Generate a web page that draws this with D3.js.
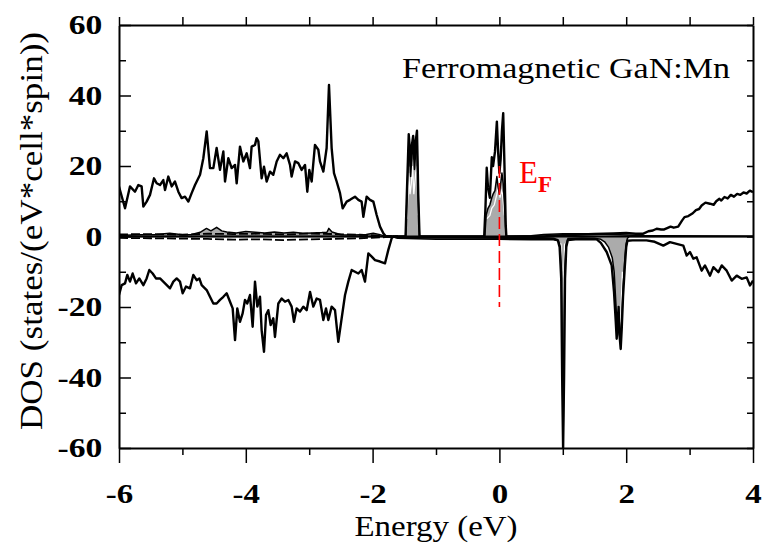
<!DOCTYPE html>
<html><head><meta charset="utf-8">
<script src="https://cdn.jsdelivr.net/npm/d3@7"></script>
<style>body{margin:0;background:#fff} svg text{font-family:"Liberation Serif",serif !important}</style>
</head><body><svg id="c" width="762" height="548"></svg>
<script>
// ---------- data ----------
const xTicks = [-6, -4, -2, 0, 2, 4];
const xMinorTicks = [-5, -3, -1, 1, 3];
const yTicks = [-60, -40, -20, 0, 20, 40, 60];
const yMinorTicks = [-50, -30, -10, 10, 30, 50];
const titleText = "Ferromagnetic GaN:Mn";
const xLabel = "Energy (eV)";
const yLabel = "DOS (states/(eV*cell*spin))";

// total DOS, spin up  [energy eV, DOS]
const totalUp = [[-6.00,14.2],[-5.905,8.0],[-5.827,14.2],[-5.748,12.7],[-5.695,14.6],[-5.643,14.2],[-5.616,8.5],[-5.564,9.9],[-5.511,11.8],[-5.448,16.5],[-5.406,15.1],[-5.353,14.6],[-5.301,16.0],[-5.274,13.2],[-5.222,17.0],[-5.169,14.2],[-5.117,15.6],[-5.064,12.7],[-5.012,10.9],[-4.959,11.3],[-4.906,9.9],[-4.854,12.3],[-4.801,14.6],[-4.722,17.5],[-4.670,22.2],[-4.617,29.8],[-4.565,19.4],[-4.512,19.4],[-4.460,25.1],[-4.407,18.9],[-4.354,24.1],[-4.328,15.6],[-4.276,22.2],[-4.223,19.4],[-4.170,20.3],[-4.144,15.1],[-4.092,25.5],[-4.039,21.3],[-3.986,23.6],[-3.934,19.4],[-3.908,25.5],[-3.855,26.0],[-3.829,27.9],[-3.802,27.0],[-3.750,16.5],[-3.713,19.8],[-3.671,15.6],[-3.618,18.4],[-3.566,17.5],[-3.513,21.3],[-3.461,23.2],[-3.408,22.2],[-3.356,23.6],[-3.303,20.3],[-3.277,17.0],[-3.224,21.3],[-3.171,20.8],[-3.119,18.9],[-3.066,20.3],[-3.030,12.7],[-2.998,18.9],[-2.961,15.6],[-2.909,26.0],[-2.856,24.6],[-2.830,21.3],[-2.777,18.4],[-2.725,25.1],[-2.688,43.0],[-2.646,25.1],[-2.609,18.0],[-2.567,15.6],[-2.514,12.3],[-2.472,8.0],[-2.409,9.9],[-2.357,10.4],[-2.278,11.3],[-2.225,10.4],[-2.173,9.9],[-2.146,5.6],[-2.094,11.3],[-2.041,10.4],[-1.988,9.9],[-1.936,6.1],[-1.883,2.8],[-1.831,0.9],[-1.789,0],
 [-1.48,0],[-1.46,12],[-1.43,29],[-1.41,24],[-1.40,20],[-1.38,26],[-1.36,28.5],[-1.34,22],[-1.32,27],[-1.30,30],[-1.28,12],[-1.26,0],
 [-0.24,0],[-0.22,8],[-0.20,19.5],[-0.18,14],[-0.15,11],[-0.12,22.5],[-0.10,20],[-0.07,24],[-0.04,32.6],[-0.02,24],[0.00,18],[0.02,22],[0.04,30],[0.06,35],[0.08,20],[0.10,3],[0.11,0],
 [0.70,0],[0.90,0.3],[1.20,0.5],[1.50,0.7],[1.80,0.9],[2.00,1.0],[2.15,0.8],[2.27,0.8],[2.35,1.5],[2.42,1.7],[2.48,2.2],[2.55,2.0],[2.60,2.0],[2.70,2.8],[2.75,2.5],[2.82,2.8],[2.88,4.5],[2.92,5.5],[2.98,5.8],[3.05,6.6],[3.10,7.5],[3.15,7.8],[3.19,8.8],[3.25,9.6],[3.32,9.3],[3.38,9.0],[3.42,10.0],[3.47,10.7],[3.50,10.2],[3.55,11.2],[3.60,10.8],[3.65,11.8],[3.70,11.3],[3.75,12.1],[3.80,11.8],[3.85,12.5],[3.90,12.2],[3.95,13.0],[4.00,12.6]];

// total DOS, spin down
const totalDown = [[-6.00,-16.6],[-5.958,-13.8],[-5.905,-13.3],[-5.869,-10.9],[-5.827,-12.8],[-5.785,-10.5],[-5.732,-13.3],[-5.680,-11.9],[-5.616,-13.8],[-5.564,-11.9],[-5.522,-9.5],[-5.469,-10.5],[-5.417,-11.9],[-5.353,-11.9],[-5.274,-13.3],[-5.195,-14.7],[-5.143,-12.8],[-5.090,-11.9],[-5.038,-12.8],[-4.996,-16.1],[-4.943,-14.2],[-4.880,-14.7],[-4.828,-10.9],[-4.775,-12.4],[-4.733,-11.9],[-4.696,-13.8],[-4.617,-15.2],[-4.565,-17.1],[-4.512,-19.0],[-4.460,-19.0],[-4.407,-18.0],[-4.354,-17.1],[-4.302,-16.1],[-4.249,-18.5],[-4.207,-20.4],[-4.170,-29.4],[-4.134,-20.4],[-4.092,-24.2],[-4.050,-21.8],[-4.013,-18.0],[-3.976,-19.0],[-3.934,-16.6],[-3.892,-25.6],[-3.855,-12.8],[-3.818,-19.9],[-3.776,-17.1],[-3.750,-26.6],[-3.713,-32.7],[-3.681,-22.3],[-3.645,-20.9],[-3.608,-25.1],[-3.566,-23.2],[-3.540,-28.5],[-3.487,-19.0],[-3.434,-17.6],[-3.382,-18.5],[-3.329,-18.0],[-3.277,-19.9],[-3.240,-24.2],[-3.198,-20.4],[-3.145,-21.3],[-3.093,-19.9],[-3.040,-20.9],[-2.987,-15.7],[-2.935,-19.9],[-2.882,-17.6],[-2.830,-18.0],[-2.777,-23.7],[-2.735,-20.4],[-2.698,-23.7],[-2.646,-19.9],[-2.593,-20.9],[-2.541,-29.9],[-2.488,-23.2],[-2.435,-16.6],[-2.383,-12.8],[-2.330,-9.5],[-2.278,-10.0],[-2.225,-10.5],[-2.173,-9.5],[-2.120,-12.8],[-2.067,-4.8],[-2.014,-5.7],[-1.962,-6.7],[-1.883,-7.1],[-1.804,-7.6],[-1.752,-3.8],[-1.699,-0.5],[-1.673,0],
 [-1.60,-0.2],[-0.50,-0.3],[0.50,-0.4],[0.85,-0.6],[0.92,-1],[0.95,-3],[0.975,-12],[0.99,-40],[1.005,-60],[1.02,-40],[1.035,-12],[1.055,-3],[1.08,-1],[1.20,-0.8],[1.40,-0.8],
 [1.535,-0.8],[1.60,-1.8],[1.692,-4.4],[1.771,-8.2],[1.808,-15.8],[1.835,-24],[1.850,-29],[1.865,-24],[1.880,-20],[1.895,-28],[1.913,-31.9],[1.93,-26],[1.95,-17],[1.98,-8],[2.00,-3],[2.019,-1.2],
 [2.10,-1.1],[2.32,-1.1],[2.45,-1.5],[2.586,-2.6],[2.69,-1.6],[2.796,-2.1],[2.901,-2.6],[2.954,-5.4],[3.006,-4.4],[3.059,-6.3],[3.111,-5.9],[3.19,-9.7],[3.243,-8.2],[3.322,-11.1],[3.375,-8.7],[3.454,-10.1],[3.506,-8.2],[3.585,-9.7],[3.664,-12.5],[3.743,-11.1],[3.822,-12.0],[3.90,-11.6],[3.953,-13.9],[4.00,-12.5]];

// Mn partial DOS (shaded), spin up
const mnUp = [[-6.00,0.3],[-5.70,0.5],[-5.40,0.6],[-5.20,0.9],[-5.00,0.5],[-4.85,0.6],[-4.72,1.2],[-4.62,2.3],[-4.55,1.6],[-4.46,2.6],[-4.38,1.6],[-4.30,1.3],[-4.15,1.0],[-4.00,1.4],[-3.85,1.2],[-3.70,1.0],[-3.55,1.3],[-3.40,1.0],[-3.25,1.2],[-3.10,0.9],[-2.95,1.0],[-2.80,1.1],[-2.72,1.2],[-2.69,2.3],[-2.64,1.3],[-2.50,0.5],[-2.30,0.4],[-2.10,0.6],[-1.99,0.9],[-1.90,0.6],[-1.80,0.1],
 [-1.48,0],[-1.46,10],[-1.43,26],[-1.41,21],[-1.40,17],[-1.38,23],[-1.36,26],[-1.34,19],[-1.32,24],[-1.30,27],[-1.28,10],[-1.26,0],
 [-0.23,0],[-0.21,6],[-0.18,8],[-0.15,9],[-0.12,11],[-0.10,12],[-0.07,13],[-0.04,17],[-0.02,14],[0.00,12],[0.02,15],[0.04,18],[0.06,15],[0.08,9],[0.10,2],[0.11,0],
 [0.50,0.2],[0.70,0.6],[1.00,0.8],[1.40,0.8],[1.80,0.6],[2.20,0.3],[2.60,0.2],[4.00,0.1]];

// Mn partial DOS (shaded), spin down
const mnDown = [[-6.00,0],[-1.70,0],[-1.60,-0.5],[-1.00,-0.8],[0.00,-0.8],[0.50,-0.9],[0.85,-0.9],[0.93,-1.2],[0.96,-3],[0.98,-10],[0.995,-38],[1.005,-59],[1.015,-38],[1.03,-10],[1.05,-2.5],[1.08,-0.6],[1.30,-0.4],[1.50,-0.5],[1.60,-0.8],[1.66,-1.5],[1.72,-3],[1.78,-6],[1.81,-10],[1.84,-20],[1.86,-28],[1.875,-22],[1.89,-27],[1.905,-30],[1.93,-24],[1.95,-15],[1.98,-6],[2.00,-2],[2.02,-0.5],[2.05,0],[4.00,0]];

// second partial (white lines inside the peaks)
const whiteUp1 = [[-1.46,5],[-1.43,18],[-1.41,12],[-1.39,15],[-1.37,20],[-1.35,12],[-1.32,18],[-1.30,20],[-1.28,6]];
const whiteUp2 = [[-0.20,5],[-0.15,6],[-0.12,8],[-0.08,9],[-0.04,12],[-0.01,15],[0.01,11],[0.03,13],[0.05,12],[0.08,6]];
const whiteDown1 = [[0.97,-2],[0.99,-15],[1.00,-50],[1.01,-15],[1.03,-2]];
const whiteDown2 = [[1.56,-0.6],[1.66,-2.8],[1.74,-6.5],[1.79,-12],[1.83,-20],[1.855,-25],[1.87,-20],[1.89,-24],[1.905,-27],[1.92,-20],[1.94,-10]];

// small partials (dashed)
const dashUp = [[-6.0,0.6],[-5.5,0.7],[-5.0,0.5],[-4.6,0.8],[-4.2,0.7],[-3.8,0.8],[-3.4,0.6],[-3.0,0.8],[-2.6,0.7],[-2.2,0.5],[-1.8,0.2],[-1.6,0]];
const dashDown = [[-6.0,-0.4],[-5.5,-0.5],[-5.0,-0.6],[-4.6,-0.7],[-4.2,-0.9],[-3.8,-0.8],[-3.4,-1.0],[-3.0,-0.8],[-2.6,-0.7],[-2.2,-0.5],[-1.8,-0.2],[-1.6,0]];

const fermiRange = [-20, 20];

// ---------- drawing ----------
const L = 119, R = 753, T = 25, B = 448;
const x = d3.scaleLinear().domain([-6, 4]).range([L, R]);
const y = d3.scaleLinear().domain([-60, 60]).range([B, T]);
const svg = d3.select('#c');
const serif = "Liberation Serif";

svg.append('defs').append('clipPath').attr('id', 'cp')
  .append('rect').attr('x', L).attr('y', T).attr('width', R - L).attr('height', B - T);

const line = d3.line().x(d => x(d[0])).y(d => y(d[1]));
const area = d3.area().x(d => x(d[0])).y0(y(0)).y1(d => y(d[1]));

const g = svg.append('g').attr('clip-path', 'url(#cp)');
g.append('path').datum(mnUp).attr('d', area).attr('fill', '#ababab');
g.append('path').datum(mnDown).attr('d', area).attr('fill', '#ababab');
g.append('line').attr('x1', L).attr('x2', R).attr('y1', y(0)).attr('y2', y(0))
  .attr('stroke', '#000').attr('stroke-width', 2.2);
[whiteUp1, whiteUp2, whiteDown1, whiteDown2].forEach(s =>
  g.append('path').datum(s).attr('d', line).attr('fill', 'none')
    .attr('stroke', '#fff').attr('stroke-width', 1.3));
[mnUp, mnDown].forEach(s =>
  g.append('path').datum(s).attr('d', line).attr('fill', 'none')
    .attr('stroke', '#000').attr('stroke-width', 1.5).attr('stroke-linejoin', 'round'));
[dashUp, dashDown].forEach(s =>
  g.append('path').datum(s).attr('d', line).attr('fill', 'none')
    .attr('stroke', '#000').attr('stroke-width', 1.8).attr('stroke-dasharray', '9,3'));
[totalUp, totalDown].forEach(s =>
  g.append('path').datum(s).attr('d', line).attr('fill', 'none')
    .attr('stroke', '#000').attr('stroke-width', 2.4).attr('stroke-linejoin', 'round'));

// Fermi level
svg.append('line').attr('x1', x(0)).attr('x2', x(0))
  .attr('y1', y(fermiRange[1])).attr('y2', y(fermiRange[0]))
  .attr('stroke', '#ff0000').attr('stroke-width', 1.6).attr('stroke-dasharray', '12,5');

// axes
function styleAxis(sel) {
  sel.select('.domain').attr('stroke', '#000').attr('stroke-width', 2);
  sel.selectAll('.tick line').attr('stroke', '#000').attr('stroke-width', 1.5);
}
const ax1 = svg.append('g').attr('transform', `translate(0,${B})`)
  .call(d3.axisBottom(x).tickValues(xTicks).tickSize(15).tickSizeOuter(0).tickFormat(d => String(d)));
styleAxis(ax1);
ax1.selectAll('.tick text').attr('y', 503 - B).attr('dy', 0)
  .attr('font-family', serif).attr('font-weight', 'bold').attr('font-size', 27)
  .attr('fill', '#000').attr('transform', 'scale(1.22,1)');
const ax1m = svg.append('g').attr('transform', `translate(0,${B})`)
  .call(d3.axisBottom(x).tickValues(xMinorTicks).tickSize(7).tickFormat(''));
ax1m.select('.domain').remove(); styleAxis(ax1m);

const ax2 = svg.append('g').attr('transform', `translate(0,${T})`)
  .call(d3.axisTop(x).tickValues(d3.range(-6, 5, 1)).tickSize(8).tickSizeOuter(0).tickFormat(''));
styleAxis(ax2);

const ax3 = svg.append('g').attr('transform', `translate(${L},0)`)
  .call(d3.axisLeft(y).tickValues(yTicks).tickSize(-12).tickSizeOuter(0).tickPadding(14).tickFormat(d => String(d)));
styleAxis(ax3);
ax3.selectAll('.tick text').attr('font-family', serif).attr('font-weight', 'bold')
  .attr('font-size', 28).attr('fill', '#000').attr('transform', 'scale(1.2,1)');
const ax3m = svg.append('g').attr('transform', `translate(${L},0)`)
  .call(d3.axisLeft(y).tickValues(yMinorTicks).tickSize(-7).tickFormat(''));
ax3m.select('.domain').remove(); styleAxis(ax3m);

const ax4 = svg.append('g').attr('transform', `translate(${R},0)`)
  .call(d3.axisRight(y).tickValues(d3.range(-60, 61, 10)).tickSize(-6).tickSizeOuter(0).tickFormat(''));
styleAxis(ax4);

// texts
svg.append('text').attr('x', 402).attr('y', 78).text(titleText)
  .attr('font-family', serif).attr('font-size', 30).attr('fill', '#000')
  .attr('textLength', 328).attr('lengthAdjust', 'spacingAndGlyphs');
svg.append('text').attr('x', (L + R) / 2).attr('y', 536).attr('text-anchor', 'middle').text(xLabel)
  .attr('font-family', serif).attr('font-size', 30).attr('fill', '#000')
  .attr('textLength', 163).attr('lengthAdjust', 'spacingAndGlyphs');
svg.append('text').attr('transform', 'translate(42,231) rotate(-90)').attr('text-anchor', 'middle').text(yLabel)
  .attr('font-family', serif).attr('font-size', 31).attr('fill', '#000')
  .attr('textLength', 398).attr('lengthAdjust', 'spacingAndGlyphs');
svg.append('text').attr('x', 519).attr('y', 183).text('E')
  .attr('font-family', serif).attr('font-size', 31).attr('fill', '#ff0000');
svg.append('text').attr('x', 538).attr('y', 192).text('F')
  .attr('font-family', serif).attr('font-size', 23).attr('font-weight', 'bold').attr('fill', '#ff0000');
</script></body></html>
